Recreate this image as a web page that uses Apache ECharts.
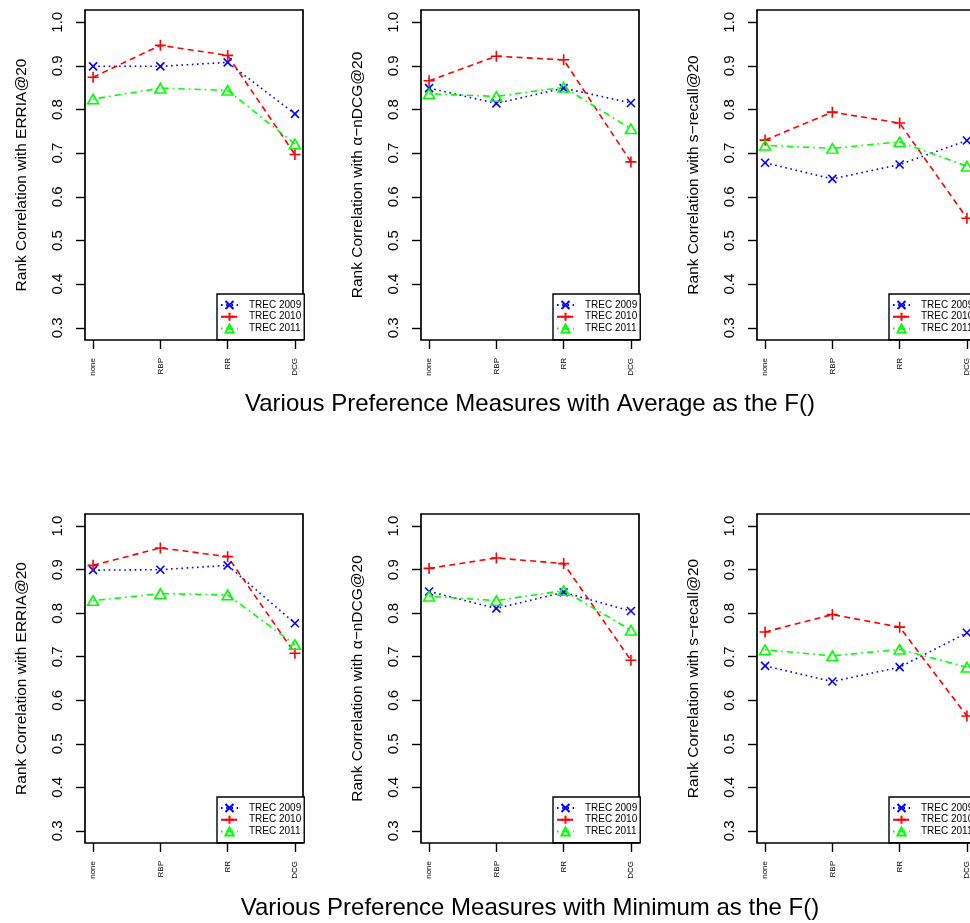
<!DOCTYPE html>
<html>
<head>
<meta charset="utf-8">
<script src="https://cdn.jsdelivr.net/npm/echarts@6/dist/echarts.min.js"></script>
<style>
html,body{margin:0;padding:0;background:#fff;}
#chart{width:970px;height:923px;}
</style>
</head>
<body>
<div id="chart"></div>
<script>
// ---------- data ----------
const categories = ['none', 'RBP', 'RR', 'DCG'];
const yTicks = [0.3, 0.4, 0.5, 0.6, 0.7, 0.8, 0.9, 1.0];
const seriesNames = ['TREC 2009', 'TREC 2010', 'TREC 2011'];
const yNames = ['Rank Correlation with ERRIA@20', 'Rank Correlation with \u03b1\u2212nDCG@20', 'Rank Correlation with s\u2212recall@20'];
const rowTitles = ['Various Preference Measures with Average as the F()', 'Various Preference Measures with Minimum as the F()'];

// Average as F()
const avgERRIA_2009 = [0.899, 0.899, 0.908, 0.790];
const avgERRIA_2010 = [0.874, 0.947, 0.924, 0.697];
const avgERRIA_2011 = [0.824, 0.849, 0.844, 0.721];
const avgNDCG_2009 = [0.849, 0.814, 0.849, 0.815];
const avgNDCG_2010 = [0.866, 0.922, 0.914, 0.680];
const avgNDCG_2011 = [0.836, 0.830, 0.851, 0.756];
const avgSRecall_2009 = [0.678, 0.641, 0.674, 0.729];
const avgSRecall_2010 = [0.730, 0.794, 0.769, 0.551];
const avgSRecall_2011 = [0.718, 0.711, 0.726, 0.670];
// Minimum as F()
const minERRIA_2009 = [0.899, 0.900, 0.910, 0.777];
const minERRIA_2010 = [0.910, 0.950, 0.930, 0.708];
const minERRIA_2011 = [0.829, 0.845, 0.842, 0.728];
const minNDCG_2009 = [0.850, 0.811, 0.848, 0.805];
const minNDCG_2010 = [0.903, 0.927, 0.914, 0.692];
const minNDCG_2011 = [0.839, 0.829, 0.852, 0.761];
const minSRecall_2009 = [0.679, 0.643, 0.676, 0.755];
const minSRecall_2010 = [0.757, 0.797, 0.768, 0.564];
const minSRecall_2011 = [0.716, 0.702, 0.717, 0.676];

const panelData = [
  [avgERRIA_2009, avgERRIA_2010, avgERRIA_2011],
  [avgNDCG_2009, avgNDCG_2010, avgNDCG_2011],
  [avgSRecall_2009, avgSRecall_2010, avgSRecall_2011],
  [minERRIA_2009, minERRIA_2010, minERRIA_2011],
  [minNDCG_2009, minNDCG_2010, minNDCG_2011],
  [minSRecall_2009, minSRecall_2010, minSRecall_2011]
];

// ---------- layout / style ----------
const FONT = "'Liberation Sans', Arial, Helvetica, sans-serif";
const gridLefts = [85, 421, 757];
const gridTops = [10, 514];
const gridHeights = [330, 329];
const gridW = 218;
const legendW = 86, legendH = 46;
const titleY = [404, 908];

const styles = [
  { color: '#0000FF', dash: [1.6, 3.6], symbol: 'path://M0,0L10,10M10,0L0,10', size: 8, fill: '#0000FF' },
  { color: '#FF0000', dash: [6, 4.2], symbol: 'path://M5,0L5,10M0,5L10,5', size: 11, fill: '#FF0000' },
  { color: '#00FF00', dash: [1.6, 4, 6.5, 4], symbol: 'path://M5,0L10,8.66L0,8.66Z', size: [11, 9.5], fill: 'rgba(0,0,0,0)' }
];

const grids = [], xAxes = [], yAxes = [], series = [], legends = [];
for (let p = 0; p < 6; p++) {
  const row = Math.floor(p / 3), col = p % 3;
  const left = gridLefts[col], top = gridTops[row], h = gridHeights[row];
  grids.push({
    left: left, top: top, width: gridW, height: h,
    show: true, borderColor: '#000', borderWidth: 1.7, backgroundColor: 'transparent',
    containLabel: false, outerBoundsMode: 'none'
  });
  xAxes.push({
    type: 'value', gridIndex: p, min: 0.88, max: 4.12,
    axisLine: { show: false },
    splitLine: { show: false },
    axisTick: { show: true, length: 9, customValues: [1, 2, 3, 4], lineStyle: { color: '#000', width: 1.4 } },
    axisLabel: {
      customValues: [1, 2, 3, 4], rotate: 90, fontSize: 8, margin: 18, color: '#000', fontFamily: FONT,
      formatter: function (v) { return categories[Math.round(v) - 1]; }
    }
  });
  yAxes.push({
    type: 'value', gridIndex: p, min: 0.272, max: 1.028,
    axisLine: { show: false },
    splitLine: { show: false },
    axisTick: { show: true, length: 9, customValues: yTicks, lineStyle: { color: '#000', width: 1.4 } },
    axisLabel: {
      customValues: yTicks, rotate: 90, fontSize: 15, margin: 20, color: '#000', fontFamily: FONT,
      formatter: function (v) { return v.toFixed(1); }
    },
    name: yNames[col], nameLocation: 'middle', nameGap: 55,
    nameTextStyle: { fontSize: 15.5, color: '#000', fontFamily: FONT }
  });
  for (let s = 0; s < 3; s++) {
    const st = styles[s];
    const vals = panelData[p][s];
    series.push({
      type: 'line', name: seriesNames[s], xAxisIndex: p, yAxisIndex: p,
      data: vals.map(function (v, i) { return [i + 1, v]; }),
      symbol: st.symbol, symbolSize: st.size, showSymbol: true,
      lineStyle: { color: st.color, width: 1.6, type: st.dash },
      itemStyle: { color: st.fill, borderColor: st.color, borderWidth: 1.6 },
      emphasis: { disabled: true },
      silent: true, animation: false, clip: false
    });
  }
  legends.push({
    orient: 'vertical', left: left + gridW - legendW, top: top + h - legendH,
    itemWidth: 17, itemHeight: 10, itemGap: 1.7,
    padding: [6, 3, 6.3, 3],
    borderColor: '#000', borderWidth: 1.4, backgroundColor: '#fff',
    textStyle: { fontSize: 10, color: '#000', fontFamily: FONT, padding: [0, 0, 0, 6] },
    selectedMode: false, align: 'left', data: seriesNames
  });
}

const chart = echarts.init(document.getElementById('chart'), null, { renderer: 'canvas' });
chart.setOption({
  backgroundColor: '#fff',
  animation: false,
  grid: grids, xAxis: xAxes, yAxis: yAxes, series: series, legend: legends,
  graphic: rowTitles.map(function (t, i) {
    return {
      type: 'text', x: 530, y: titleY[i],
      style: { text: t, fontSize: 24, fontFamily: FONT, fill: '#000', align: 'center', verticalAlign: 'middle' }
    };
  })
});
</script>
</body>
</html>
